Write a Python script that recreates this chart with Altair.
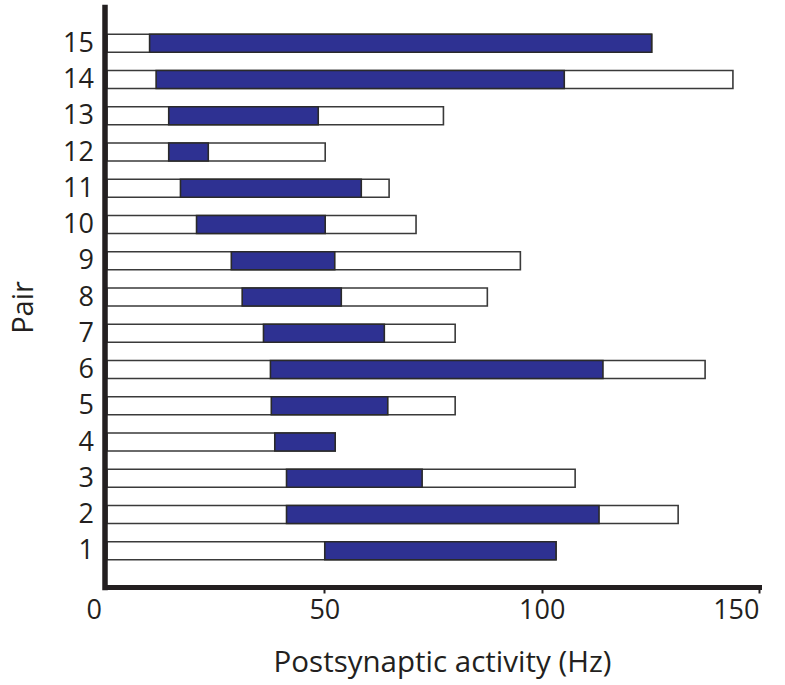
import altair as alt
import pandas as pd

pairs = list(range(1, 16))
blue_start = [50.1, 41.3, 41.3, 38.6, 37.8, 37.6, 36.0, 31.1, 28.6, 20.6, 16.9, 14.2, 14.2, 11.3, 9.8]
blue_end = [103.3, 113.2, 72.5, 52.5, 64.6, 114.1, 63.8, 53.9, 52.4, 50.2, 58.5, 23.3, 48.6, 105.2, 125.3]
total = [103.3, 131.4, 107.7, 52.5, 80.1, 137.6, 80.1, 87.5, 95.1, 71.1, 64.9, 50.2, 77.4, 144.0, 125.3]

df = pd.DataFrame({"pair": pairs, "start": blue_start, "end": blue_end, "total": total})

FONT = "Open Sans"
TXT = "#231F20"

base = alt.Chart(df).transform_calculate(
    lo="datum.pair - 0.25", hi="datum.pair + 0.25", zero="0"
)

xscale = alt.Scale(domain=[0, 150], nice=False, zero=False)
yscale = alt.Scale(domain=[0, 16], nice=False, zero=False)

xaxis = alt.Axis(
    values=[0, 50, 100, 150], title="Postsynaptic activity (Hz)", grid=False,
    domainColor=TXT, domainWidth=5, domainCap="square",
    tickColor=TXT, tickWidth=2, tickSize=6,
    tickOpacity={"condition": {"test": "datum.value === 0", "value": 0}, "value": 1},
    labelOffset={"condition": {"test": "datum.value === 0", "value": -21}, "value": 0},
    labelFont=FONT, labelFontSize=27, labelColor=TXT, labelPadding=4,
    titleFont=FONT, titleFontSize=29.5, titleFontWeight="normal", titleColor=TXT,
    titleX=335, titleY=84, titleBaseline="alphabetic", titleAlign="center",
    zindex=1,
)
yaxis = alt.Axis(
    values=pairs, title="Pair", grid=False, ticks=False, offset=2.5,
    domainColor=TXT, domainWidth=5.5, domainCap="square",
    labelFont=FONT, labelFontSize=27, labelColor=TXT, labelPadding=11,
    labelBaseline="middle",
    titleFont=FONT, titleFontSize=29, titleFontWeight="normal", titleColor=TXT,
    titleAngle=-90, titleX=-72, titleY=300, titleBaseline="alphabetic", titleAlign="center",
    zindex=1,
)

white = base.mark_bar(color="white", stroke="#3a3a3a", strokeWidth=1.6).encode(
    x=alt.X("zero:Q", scale=xscale, axis=xaxis),
    x2="total:Q",
    y=alt.Y("lo:Q", scale=yscale, axis=yaxis),
    y2="hi:Q",
)
blue = base.mark_bar(color="#2E3192", stroke="#2a2a2a", strokeWidth=1.6).encode(
    x=alt.X("start:Q", scale=xscale),
    x2="end:Q",
    y=alt.Y("lo:Q", scale=yscale),
    y2="hi:Q",
)

chart = alt.layer(white, blue).properties(
    width=652, height=580,
    padding={"left": 107, "top": 7, "right": 24, "bottom": 96},
    autosize=alt.AutoSizeParams(type="none"),
).configure_view(stroke=None)

chart.save("out.html", embed_options={"renderer": "svg", "actions": False})
